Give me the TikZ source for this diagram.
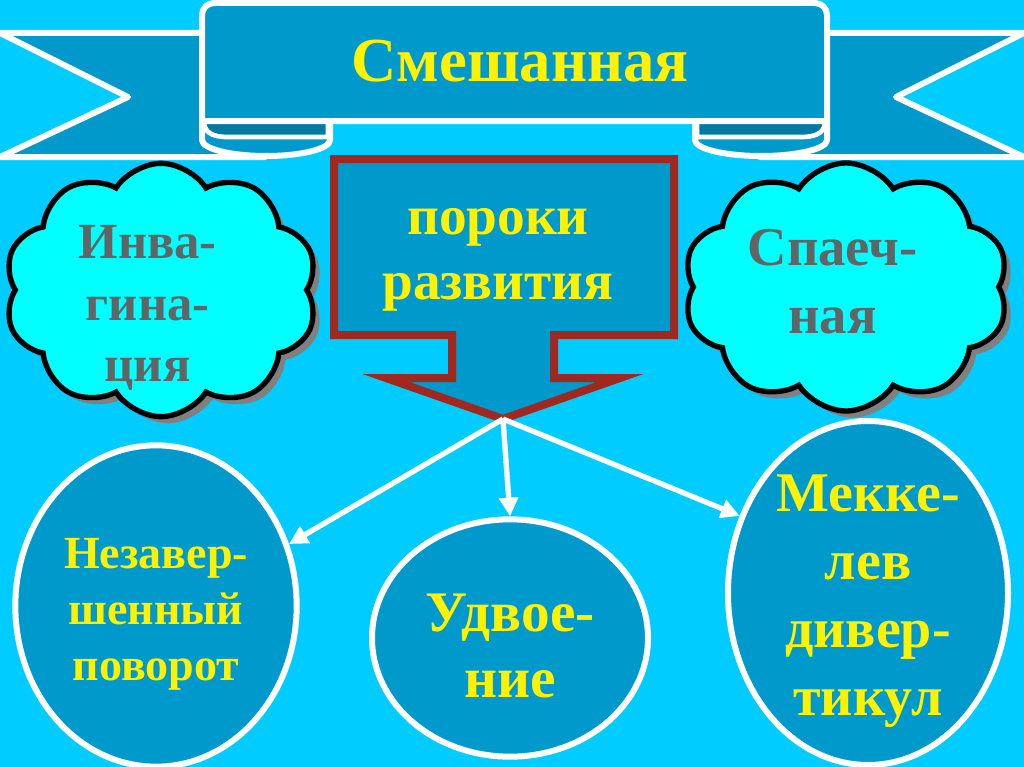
\documentclass[tikz,border=0pt]{standalone}
\usepackage{fontspec}
\setmainfont{Liberation Serif}
\usetikzlibrary{shapes.geometric,shapes.symbols,arrows.meta,shadows}

\definecolor{skyback}{RGB}{0,204,255}
\definecolor{ribbonblue}{RGB}{0,153,204}
\definecolor{folddark}{RGB}{0,122,162}
\definecolor{cloudcyan}{RGB}{0,255,255}
\definecolor{arrowred}{RGB}{160,40,30}
\definecolor{textgray}{RGB}{100,100,100}

\begin{document}
\begin{tikzpicture}[x=0.75pt,y=0.75pt,yscale=-1,
  ribbon/.style={fill=ribbonblue,draw=white,line width=4.5pt,line join=round},
  fold/.style={fill=folddark,draw=white,line width=3.5pt},
  puff/.style={cloud,cloud puffs=10,cloud puff arc=115,cloud ignores aspect,fill=cloudcyan,draw=black,line width=4pt,
    drop shadow={shadow xshift=5pt,shadow yshift=-5pt,fill=gray,opacity=1}},
  puffword/.style={text=textgray,align=center},
  oval/.style={ellipse,fill=ribbonblue,draw=white,line width=4.5pt,inner sep=0pt},
  ovalword/.style={text=yellow,align=center},
  link/.style={draw=white,line width=4pt,-{Triangle[length=14pt,width=14pt]}}]

\useasboundingbox (0,0) rectangle (1024,767);
\fill[skyback] (0,0) rectangle (1024,767);

% ribbon tails
\draw[ribbon] (0,33) -- (265,33) -- (265,157) -- (0,157) -- (128,97) -- cycle;
\draw[ribbon] (1024,33) -- (760,33) -- (760,157) -- (1024,157) -- (896,97) -- cycle;
% ribbon folds
\draw[ribbon] (202,121) -- (330,121) -- (330,140) arc[start angle=0,end angle=180,x radius=64,y radius=16] -- cycle;
\draw[ribbon] (827,121) -- (695,121) -- (695,140) arc[start angle=180,end angle=0,x radius=66,y radius=16] -- cycle;
\draw[fold] (328,121) -- (328,137) -- (228,137) .. controls (210,137) and (204,131) .. (204,121);
\draw[fold] (697,121) -- (697,137) -- (801,137) .. controls (819,137) and (825,131) .. (825,121);
% ribbon front
\draw[ribbon] (202,121) -- (202,15) arc[start angle=180,end angle=270,radius=12] -- (815,3) arc[start angle=270,end angle=360,radius=12] -- (827,121) -- cycle;
\node[text=yellow,font=\bfseries\fontsize{47}{56}\selectfont] (mixed) at (520,61) {Смешанная};

% clouds
\node[puff,minimum width=235pt,minimum height=190pt,
  label={[puffword,font=\bfseries\fontsize{38}{46}\selectfont,xshift=-10pt,yshift=-13.5pt]center:{Инва-\\гина-\\ция}}] (invag) at (161,290) {};
\node[puff,minimum width=244pt,minimum height=186pt,
  label={[puffword,font=\bfseries\fontsize{41}{51}\selectfont,xshift=-10pt,yshift=4pt]center:{Спаеч-\\ная}}] (adhesive) at (846,287) {};

% big arrow
\coordinate (tip) at (503,419);
\draw[fill=ribbonblue,draw=arrowred,line width=6pt,line join=miter] (334,159) -- (674,159) -- (674,335) -- (554,335) -- (554,378) -- (620,378) -- (tip) -- (386,378) -- (452,378) -- (452,335) -- (334,335) -- cycle;
\node[text=yellow,align=center,font=\bfseries\fontsize{41.5}{49}\selectfont] (defect) at (498,260) {пороки\\развития};

% ovals
\node[oval,minimum width=211pt,minimum height=241pt,
  label={[ovalword,font=\bfseries\fontsize{34.5}{42}\selectfont,yshift=-6pt]center:{Незавер-\\шенный\\поворот}}] (twist) at (156,606) {};
\node[oval,minimum width=207pt,minimum height=178pt,
  label={[ovalword,font=\bfseries\fontsize{43}{50}\selectfont,yshift=-6pt]center:{Удвое-\\ние}}] (doubling) at (510,638) {};
\node[oval,minimum width=210pt,minimum height=258pt,
  label={[ovalword,font=\bfseries\fontsize{42}{51}\selectfont,yshift=-6pt]center:{Мекке-\\лев\\дивер-\\тикул}}] (meckel) at (868,593) {};

% links
\draw[link] (tip) -- (twist.25);
\draw[link] (tip) -- (doubling.north);
\draw[link] (tip) -- (meckel.149);
\end{tikzpicture}
\end{document}
